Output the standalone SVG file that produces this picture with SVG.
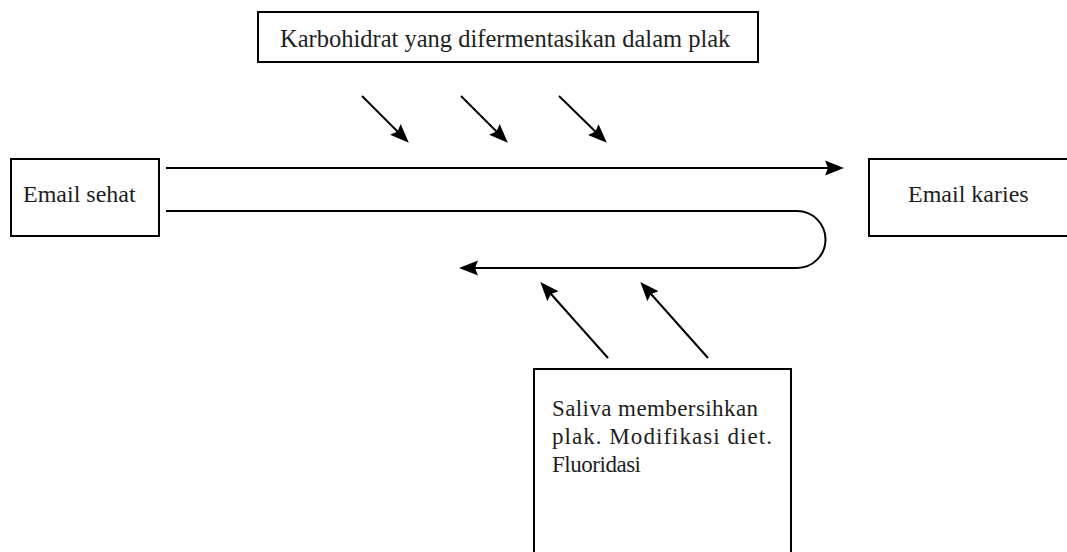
<svg xmlns="http://www.w3.org/2000/svg" width="1067" height="552" viewBox="0 0 1067 552">
  <style>
    .box { fill: #ffffff; stroke: #000000; stroke-width: 2; }
    .lbl { font-family: "Liberation Serif", "Times New Roman", serif; font-size: 24px; fill: #1e1e1e; }
    .top { font-size: 24.5px; }
    .sm { font-size: 23px; }
    .conn { fill: none; stroke: #000000; stroke-width: 2; marker-end: url(#arrow); }
  </style>
  <defs>
    <marker id="arrow" markerUnits="userSpaceOnUse" markerWidth="19" markerHeight="16" refX="15" refY="8" orient="auto">
      <path d="M0,0.5 L19,8 L0,15.5 L3,8 Z" fill="#000000"/>
    </marker>
  </defs>

  <g id="node-karbohidrat">
    <rect class="box" x="258" y="12" width="500" height="50"/>
    <text class="lbl top" x="280" y="47">Karbohidrat yang difermentasikan dalam plak</text>
  </g>

  <g id="node-email-sehat">
    <rect class="box" x="11" y="159" width="148" height="77"/>
    <text class="lbl" x="23" y="202">Email sehat</text>
  </g>

  <g id="node-email-karies">
    <rect class="box" x="869" y="159" width="210" height="77"/>
    <text class="lbl" x="908" y="202">Email karies</text>
  </g>

  <g id="node-saliva">
    <rect class="box" x="534" y="369" width="257" height="200"/>
    <text class="lbl sm" x="552" y="416" textLength="206" lengthAdjust="spacing">Saliva membersihkan</text>
    <text class="lbl sm" x="552" y="444" textLength="220" lengthAdjust="spacing">plak. Modifikasi diet.</text>
    <text class="lbl sm" x="552" y="472" textLength="89" lengthAdjust="spacing">Fluoridasi</text>
  </g>

  <g id="connectors">
    <line class="conn" x1="166" y1="168" x2="840" y2="168"/>
    <path class="conn" d="M166,211 H797 A28,28 0 0 1 797,268 H463"/>
    <line class="conn" x1="362" y1="96" x2="406" y2="140"/>
    <line class="conn" x1="461" y1="96" x2="505" y2="140"/>
    <line class="conn" x1="559" y1="96" x2="604" y2="140"/>
    <line class="conn" x1="608" y1="358" x2="543" y2="285"/>
    <line class="conn" x1="708" y1="358" x2="643" y2="285"/>
  </g>
</svg>
